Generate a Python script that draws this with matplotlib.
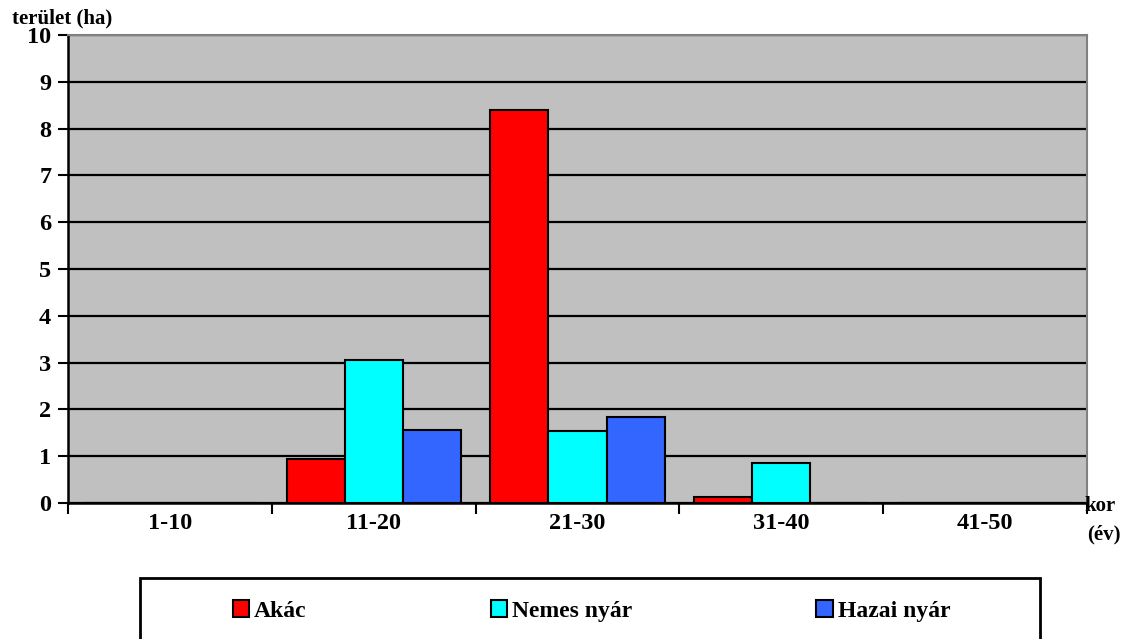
import numpy as np
import matplotlib
matplotlib.use("Agg")
from matplotlib import pyplot as plt
from matplotlib.patches import Rectangle

plt.rcParams['font.family'] = ['Liberation Serif', 'DejaVu Serif']
plt.rcParams['font.weight'] = 'bold'

# age classes and area (ha) per tree species
categories = ["1-10", "11-20", "21-30", "31-40", "41-50"]
akac = [0, 0.95, 8.39, 0.12, 0]
nemes_nyar = [0, 3.06, 1.54, 0.86, 0]
hazai_nyar = [0, 1.56, 1.83, 0, 0]
series_names = ["Akác", "Nemes nyár", "Hazai nyár"]
colors = ["#FF0000", "#00FFFF", "#3366FF"]

fig = plt.figure(figsize=(11.25, 6.39), dpi=100)
ax = fig.add_axes([0.0604, 0.2128, 0.9058, 0.7324])
ax.set_facecolor("#C0C0C0")

x = np.arange(len(categories))
w = 0.285
for i, (vals, name, col) in enumerate(zip([akac, nemes_nyar, hazai_nyar], series_names, colors)):
    ax.bar(x + (i - 1) * w, vals, width=w, color=col, edgecolor="black",
           linewidth=1.5, label=name, zorder=3)

ax.set_xlim(-0.5, len(categories) - 0.5)
ax.set_ylim(0, 10)
ax.set_yticks(range(0, 11))
ax.set_xticks(x)
ax.set_xticklabels(categories)
ax.set_xticks(np.arange(-0.5, len(categories)), minor=True)
ax.tick_params(axis="x", which="major", length=0, pad=7, labelsize=17.5)
ax.tick_params(axis="x", which="minor", length=8, width=1.5, direction="out")
ax.tick_params(axis="y", length=7, width=1.5, direction="out", labelsize=17.5, pad=5)

ax.yaxis.grid(True, color="black", linewidth=1.6)
ax.set_axisbelow(True)
for side in ["left", "bottom"]:
    ax.spines[side].set_color("black")
    ax.spines[side].set_linewidth(1.8)
for side in ["top", "right"]:
    ax.spines[side].set_color("#808080")
    ax.spines[side].set_linewidth(1.5)

fig.text(0.011, 0.956, "terület (ha)", fontsize=15, fontweight="bold", ha="left", va="bottom")
fig.text(0.964, 0.208, "kor", fontsize=15, fontweight="bold", ha="left", va="center")
fig.text(0.966, 0.163, "(év)", fontsize=15, fontweight="bold", ha="left", va="center")

# legend box
fig.patches.append(Rectangle((0.1244, -0.05), 0.8, 0.1455, transform=fig.transFigure,
                             facecolor="white", edgecolor="black", linewidth=2, zorder=0))
fig.legend(loc="center", bbox_to_anchor=(0.5258, 0.044), ncol=3, frameon=False,
           fontsize=17, handlelength=0.7, handleheight=0.7, handletextpad=0.2,
           columnspacing=7.8)

fig.savefig("out.png", dpi=100)
